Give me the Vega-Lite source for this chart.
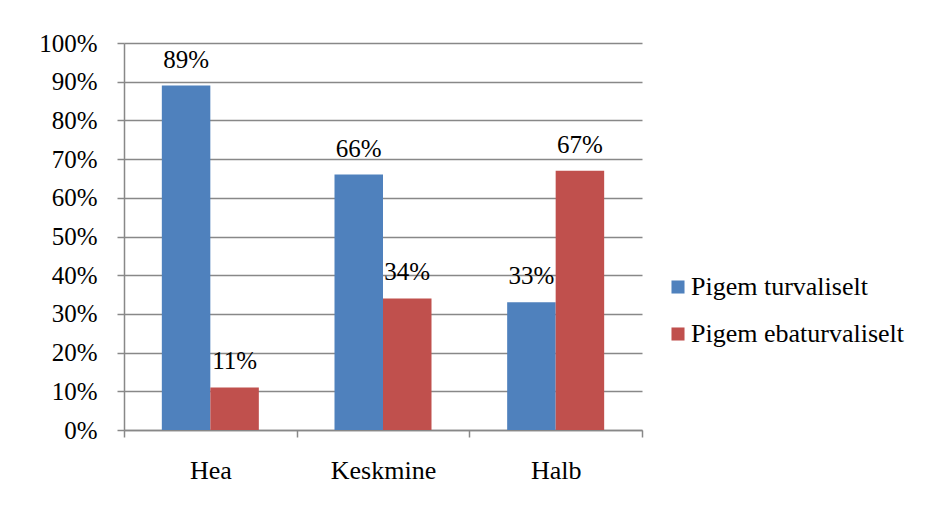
{
  "$schema": "https://vega.github.io/schema/vega-lite/v6.json",
  "width": 518,
  "height": 387,
  "autosize": {"type": "none"},
  "padding": {"left": 124, "top": 43, "right": 296, "bottom": 77},
  "background": "white",
  "data": {
    "values": [
      {"rating": "Hea", "series": "Pigem turvaliselt", "share": 0.89},
      {"rating": "Hea", "series": "Pigem ebaturvaliselt", "share": 0.11},
      {"rating": "Keskmine", "series": "Pigem turvaliselt", "share": 0.66},
      {"rating": "Keskmine", "series": "Pigem ebaturvaliselt", "share": 0.34},
      {"rating": "Halb", "series": "Pigem turvaliselt", "share": 0.33},
      {"rating": "Halb", "series": "Pigem ebaturvaliselt", "share": 0.67}
    ]
  },
  "encoding": {
    "x": {
      "field": "rating",
      "type": "nominal",
      "sort": ["Hea", "Keskmine", "Halb"],
      "title": null,
      "scale": {"paddingInner": 0, "paddingOuter": 0},
      "axis": {
        "labelAngle": 0,
        "tickBand": "extent",
        "tickSize": 7,
        "labelPadding": 20,
        "labelFontSize": 26,
        "grid": false
      }
    },
    "xOffset": {
      "field": "series",
      "sort": ["Pigem turvaliselt", "Pigem ebaturvaliselt"],
      "scale": {"paddingInner": 0, "paddingOuter": 0.78}
    },
    "y": {
      "field": "share",
      "type": "quantitative",
      "title": null,
      "scale": {"domain": [0, 1]},
      "axis": {
        "format": ".0%",
        "values": [0, 0.1, 0.2, 0.3, 0.4, 0.5, 0.6, 0.7, 0.8, 0.9, 1],
        "tickSize": 7,
        "labelPadding": 20,
        "grid": true
      }
    }
  },
  "layer": [
    {
      "mark": {"type": "bar"},
      "encoding": {
        "color": {
          "field": "series",
          "type": "nominal",
          "title": null,
          "scale": {
            "domain": ["Pigem turvaliselt", "Pigem ebaturvaliselt"],
            "range": ["#4f81bd", "#c0504d"]
          },
          "legend": {
            "orient": "none",
            "legendX": 541,
            "legendY": 231,
            "symbolType": "square",
            "symbolSize": 170,
            "symbolStrokeWidth": 0,
            "labelOffset": 0,
            "rowPadding": 21
          }
        }
      }
    },
    {
      "mark": {
        "type": "text",
        "baseline": "alphabetic",
        "dy": -18,
        "font": "Liberation Serif",
        "fontSize": 25,
        "color": "black"
      },
      "encoding": {
        "text": {"field": "share", "type": "quantitative", "format": ".0%"}
      }
    }
  ],
  "config": {
    "view": {"stroke": null},
    "axis": {
      "labelFont": "Liberation Serif",
      "labelFontSize": 25,
      "labelColor": "black",
      "domainColor": "#888888",
      "domainWidth": 1.5,
      "tickColor": "#888888",
      "tickWidth": 1.5,
      "gridColor": "#888888",
      "gridWidth": 1.5,
      "gridOpacity": 1
    },
    "legend": {
      "labelFont": "Liberation Serif",
      "labelFontSize": 26,
      "labelColor": "black",
      "labelLimit": 0
    }
  }
}
